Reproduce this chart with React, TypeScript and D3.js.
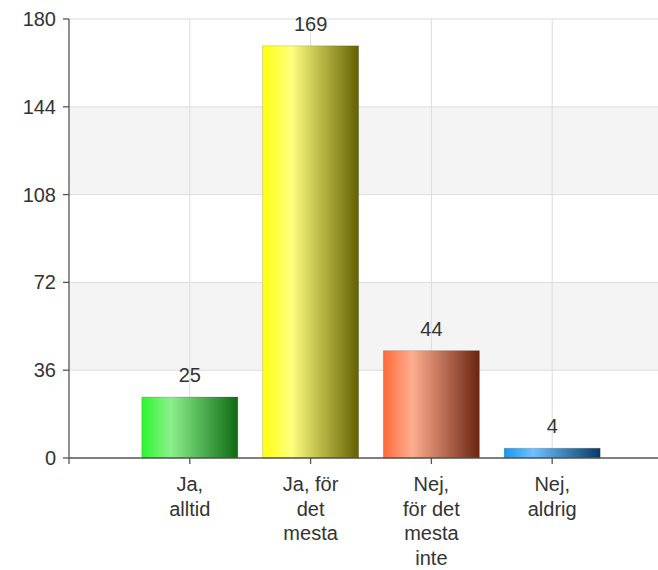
import React, { useEffect, useRef } from 'react';
import * as d3 from 'd3';

const categories = ['Ja,\nalltid', 'Ja, för\ndet\nmesta', 'Nej,\nför det\nmesta\ninte', 'Nej,\naldrig'];
const values = [25, 169, 44, 4];
const yTicks = [0, 36, 72, 108, 144, 180];
const barColors = [
  ['#2cf52c', '#8cf08c', '#0f6a12'],
  ['#ffff10', '#ffff80', '#626000'],
  ['#ff6a3a', '#ffae90', '#6a2410'],
  ['#1c96e8', '#6ec2ff', '#0a3a66'],
];

const W = 658;
const H = 570;
const FONT = 'Liberation Sans, Arial, sans-serif';

const App: React.FC = () => {
  const svgRef = useRef<SVGSVGElement>(null);

  useEffect(() => {
    if (!svgRef.current) return;
    const svg = d3.select(svgRef.current);
    svg.selectAll('*').remove();

    const left = 69;
    const top = 19;
    const bottom = 458;
    const step = 120.8;

    const y = d3.scaleLinear().domain([0, 180]).range([bottom, top]);
    const x = d3.scaleLinear().domain([0, categories.length + 1]).range([left, left + step * (categories.length + 1)]);
    const barW = 96;

    const defs = svg.append('defs');
    barColors.forEach((c, i) => {
      const g = defs.append('linearGradient').attr('id', `grad${i}`).attr('x1', '0%').attr('x2', '100%');
      g.append('stop').attr('offset', '0%').attr('stop-color', c[0]);
      g.append('stop').attr('offset', '30%').attr('stop-color', c[1]);
      g.append('stop').attr('offset', '100%').attr('stop-color', c[2]);
    });

    // alternating bands
    for (let i = 0; i < yTicks.length - 1; i++) {
      if (i % 2 === 1) {
        svg.append('rect')
          .attr('x', left)
          .attr('y', y(yTicks[i + 1]))
          .attr('width', W - left)
          .attr('height', y(yTicks[i]) - y(yTicks[i + 1]))
          .attr('fill', '#f4f4f4');
      }
    }

    // grid lines
    svg.selectAll('.hgrid').data(yTicks.slice(1)).enter().append('line')
      .attr('x1', left).attr('x2', W)
      .attr('y1', d => y(d)).attr('y2', d => y(d))
      .attr('stroke', '#dcdcdc').attr('stroke-width', 1);

    svg.selectAll('.vgrid').data(categories).enter().append('line')
      .attr('x1', (_, i) => x(i + 1)).attr('x2', (_, i) => x(i + 1))
      .attr('y1', top).attr('y2', bottom)
      .attr('stroke', '#dcdcdc').attr('stroke-width', 1);

    // bars
    svg.selectAll('.bar').data(values).enter().append('rect')
      .attr('x', (_, i) => x(i + 1) - barW / 2)
      .attr('y', d => y(d))
      .attr('width', barW)
      .attr('height', d => bottom - y(d))
      .attr('fill', (_, i) => `url(#grad${i})`)
      .attr('stroke', 'rgba(0,0,0,0.15)')
      .attr('stroke-width', 1);

    // value labels
    svg.selectAll('.val').data(values).enter().append('text')
      .attr('x', (_, i) => x(i + 1))
      .attr('y', d => y(d) - 15)
      .attr('text-anchor', 'middle')
      .attr('font-family', FONT)
      .attr('font-size', 20)
      .attr('fill', '#333')
      .text(d => d);

    // y axis
    svg.append('line').attr('x1', left).attr('x2', left).attr('y1', top).attr('y2', bottom + 6)
      .attr('stroke', '#555').attr('stroke-width', 1.3);
    yTicks.forEach(t => {
      svg.append('line').attr('x1', left - 6).attr('x2', left).attr('y1', y(t)).attr('y2', y(t))
        .attr('stroke', '#555').attr('stroke-width', 1.3);
      svg.append('text')
        .attr('x', left - 13).attr('y', y(t))
        .attr('dy', '0.35em')
        .attr('text-anchor', 'end')
        .attr('font-family', FONT)
        .attr('font-size', 20)
        .attr('fill', '#333')
        .text(t);
    });

    // x axis
    svg.append('line').attr('x1', left).attr('x2', W).attr('y1', bottom).attr('y2', bottom)
      .attr('stroke', '#555').attr('stroke-width', 1.3);
    categories.forEach((c, i) => {
      svg.append('line').attr('x1', x(i + 1)).attr('x2', x(i + 1)).attr('y1', bottom).attr('y2', bottom + 6)
        .attr('stroke', '#555').attr('stroke-width', 1.3);
      const t = svg.append('text')
        .attr('text-anchor', 'middle')
        .attr('font-family', FONT)
        .attr('font-size', 20)
        .attr('fill', '#333');
      c.split('\n').forEach((line, j) => {
        t.append('tspan').attr('x', x(i + 1)).attr('y', 491 + j * 24.7).text(line);
      });
    });
  }, []);

  return (
    <svg ref={svgRef} width={W} height={H}
      style={{ position: 'absolute', left: 0, top: 0, display: 'block', background: '#fff' }} />
  );
};

export default App;
